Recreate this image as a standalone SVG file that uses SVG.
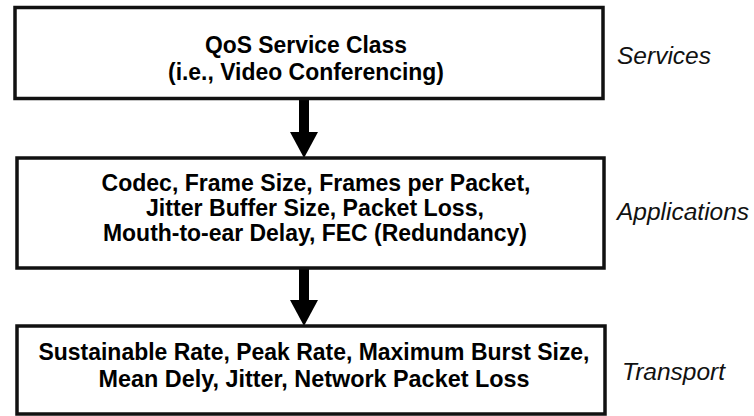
<svg xmlns="http://www.w3.org/2000/svg" width="754" height="416" viewBox="0 0 754 416">
  <style>
    .box { fill: #ffffff; stroke: #111111; stroke-width: 3.5; }
    .txt { font-family: "Liberation Sans", Arial, sans-serif; font-weight: bold; font-size: 24px; fill: #000000; text-anchor: middle; }
    .layer { font-family: "Liberation Sans", Arial, sans-serif; font-style: italic; font-size: 24.5px; fill: #111111; }
    .flow { stroke: #000000; stroke-width: 10; fill: none; }
  </style>
  <defs>
    <marker id="head" markerUnits="userSpaceOnUse" viewBox="0 0 26 28" refX="0" refY="14" markerWidth="26" markerHeight="28" orient="auto">
      <path d="M0,0 L26,14 L0,28 Z" fill="#000000"/>
    </marker>
  </defs>
  <rect width="754" height="416" fill="#ffffff"/>

  <g id="connectors">
    <line class="flow" x1="304" y1="99" x2="304" y2="132" marker-end="url(#head)"/>
    <line class="flow" x1="304" y1="269" x2="304" y2="300" marker-end="url(#head)"/>
  </g>

  <!-- condensed bold lines: glyphs squeezed to a fixed width per line -->
  <g id="services">
    <rect class="box" x="15" y="7.5" width="588" height="91"/>
    <text class="txt" x="306" y="53" textLength="202" lengthAdjust="spacingAndGlyphs">QoS Service Class</text>
    <text class="txt" x="306" y="80" textLength="276" lengthAdjust="spacingAndGlyphs">(i.e., Video Conferencing)</text>
    <text class="layer" x="617" y="64">Services</text>
  </g>

  <g id="applications">
    <rect class="box" x="17" y="158" width="587" height="110"/>
    <text class="txt" x="316" y="191" textLength="429" lengthAdjust="spacingAndGlyphs">Codec, Frame Size, Frames per Packet,</text>
    <text class="txt" x="315" y="216" textLength="338" lengthAdjust="spacingAndGlyphs">Jitter Buffer Size, Packet Loss,</text>
    <text class="txt" x="315" y="241" textLength="424" lengthAdjust="spacingAndGlyphs">Mouth-to-ear Delay, FEC (Redundancy)</text>
    <text class="layer" x="617" y="220">Applications</text>
  </g>

  <g id="transport">
    <rect class="box" x="17" y="326" width="588" height="88"/>
    <text class="txt" x="314" y="360" textLength="551" lengthAdjust="spacingAndGlyphs">Sustainable Rate, Peak Rate, Maximum Burst Size,</text>
    <text class="txt" x="314" y="387" textLength="431" lengthAdjust="spacingAndGlyphs">Mean Dely, Jitter, Network Packet Loss</text>
    <text class="layer" x="622" y="380">Transport</text>
  </g>
</svg>
